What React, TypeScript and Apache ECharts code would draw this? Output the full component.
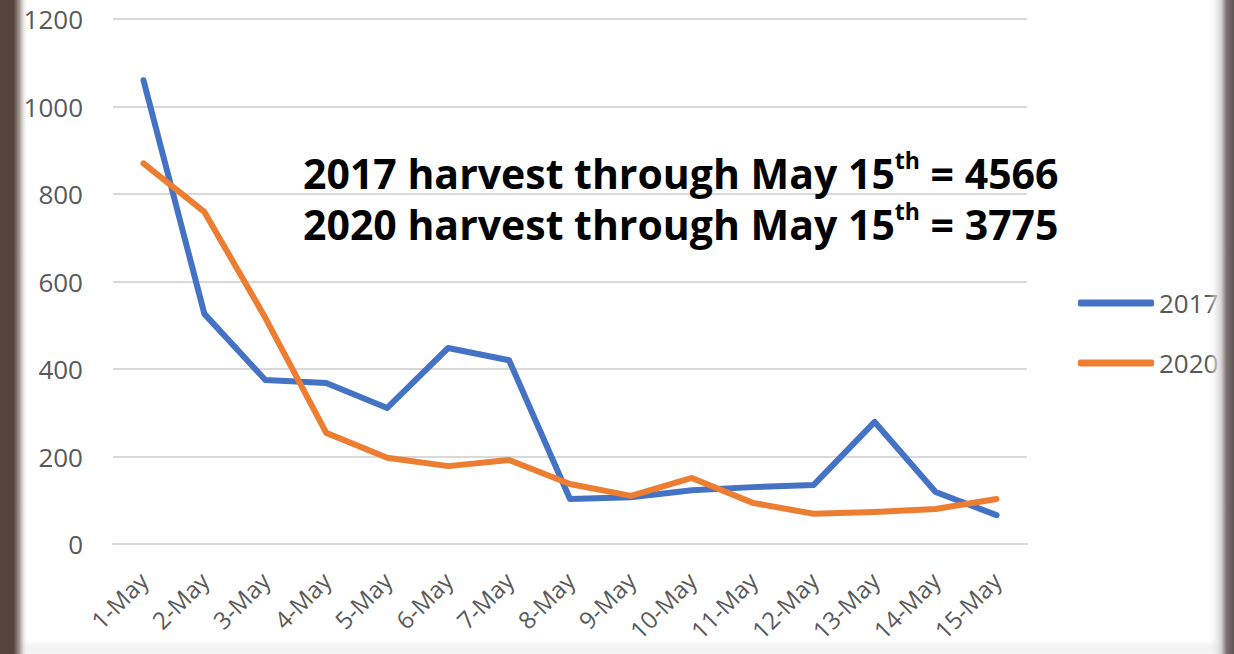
import React, { useEffect, useRef } from "react";
import * as echarts from "echarts";

const categories = ["1-May","2-May","3-May","4-May","5-May","6-May","7-May","8-May","9-May","10-May","11-May","12-May","13-May","14-May","15-May"];
const values2017 = [1060, 526, 375, 368, 311, 448, 420, 103, 107, 123, 130, 135, 279, 119, 66];
const values2020 = [870, 759, 517, 254, 197, 178, 192, 137, 110, 151, 94, 69, 73, 80, 103];
const seriesNames = ["2017", "2020"];
const annotationLines = [
  ["2017 harvest through May 15", "th", " = 4566"],
  ["2020 harvest through May 15", "th", " = 3775"],
];

export default function App() {
  const ref = useRef<HTMLDivElement>(null);
  useEffect(() => {
    document.body.style.margin = "0";
    const chart = echarts.init(ref.current!, null, { renderer: "svg" });
    const font = "'Open Sans', 'Liberation Sans', sans-serif";
    const gray = "#595959";
    chart.setOption({
      animation: false,
      backgroundColor: "#ffffff",
      grid: { left: 113, right: 207, top: 19, bottom: 110, outerBoundsMode: "none" },
      xAxis: {
        type: "category",
        data: categories,
        boundaryGap: true,
        axisLine: { show: true, lineStyle: { color: "#d9d9d9", width: 2 } },
        axisTick: { show: false },
        axisLabel: { rotate: 45, fontSize: 24, color: gray, fontFamily: font, margin: 32, interval: 0 },
      },
      yAxis: {
        type: "value",
        min: 0,
        max: 1200,
        interval: 200,
        axisLine: { show: false },
        axisTick: { show: false },
        axisLabel: { fontSize: 26, color: gray, fontFamily: font, margin: 30, formatter: (v: number) => String(v) },
        splitLine: { lineStyle: { color: "#d9d9d9", width: 2 } },
      },
      legend: {
        orient: "vertical",
        left: 1073,
        top: 285,
        itemWidth: 76,
        itemHeight: 7,
        itemGap: 34,
        icon: "roundRect",
        textStyle: { fontSize: 26, color: gray, fontFamily: font },
        data: seriesNames,
      },
      series: [
        {
          name: seriesNames[0],
          type: "line",
          data: values2017,
          symbol: "none",
          color: "#4472C4",
          lineStyle: { width: 6, color: "#4472C4", cap: "round", join: "round" },
        },
        {
          name: seriesNames[1],
          type: "line",
          data: values2020,
          symbol: "none",
          color: "#ED7D31",
          lineStyle: { width: 6, color: "#ED7D31", cap: "round", join: "round" },
        },
      ],
      graphic: [
        ...annotationLines.map((parts, i) => ({
          type: "text",
          left: 303,
          top: 148 + i * 51,
          z: 100,
          style: {
            text: `{a|${parts[0]}}{b|${parts[1]}}{a|${parts[2]}}`,
            rich: {
              a: { fontSize: 41, fontWeight: "bold", fontFamily: font, fill: "#000", lineHeight: 50 },
              b: { fontSize: 23, fontWeight: "bold", fontFamily: font, fill: "#000", verticalAlign: "top", lineHeight: 34 },
            },
          },
        })),
        {
          type: "rect",
          shape: { x: 0, y: 640, width: 1234, height: 14 },
          z: 90,
          silent: true,
          style: {
            fill: new echarts.graphic.LinearGradient(0, 0, 0, 1, [
              { offset: 0, color: "rgba(240,240,240,0)" },
              { offset: 0.5, color: "rgba(243,243,243,1)" },
              { offset: 1, color: "rgba(245,245,245,1)" },
            ]),
          },
        },
        {
          type: "rect",
          shape: { x: 0, y: 0, width: 28, height: 654 },
          z: 95,
          silent: true,
          style: {
            fill: new echarts.graphic.LinearGradient(0, 0, 1, 0, [
              { offset: 0, color: "#54443d" },
              { offset: 0.48, color: "#54443d" },
              { offset: 0.7, color: "#a39892" },
              { offset: 1, color: "rgba(255,255,255,0)" },
            ]),
          },
        },
        {
          type: "rect",
          shape: { x: 1208, y: 0, width: 26, height: 654 },
          z: 95,
          silent: true,
          style: {
            fill: new echarts.graphic.LinearGradient(0, 0, 1, 0, [
              { offset: 0, color: "rgba(255,255,255,0)" },
              { offset: 0.5, color: "#d8d4d3" },
              { offset: 0.72, color: "#7a7070" },
              { offset: 1, color: "#5e5555" },
            ]),
          },
        },
      ],
    });
    return () => chart.dispose();
  }, []);
  return <div ref={ref} style={{ width: 1234, height: 654 }} />;
}
